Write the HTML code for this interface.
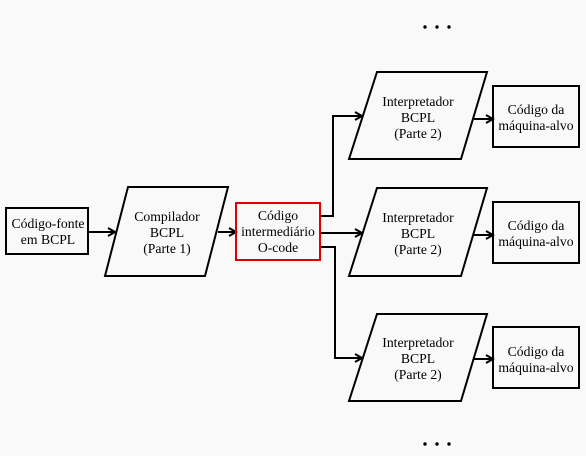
<!DOCTYPE html>
<html><head><meta charset="utf-8"><style>
html,body{margin:0;padding:0;background:#f9f9f9;}
svg{display:block;}
text{font-family:"Liberation Serif",serif;font-size:13.7px;fill:#000;text-anchor:middle;}
</style></head><body>
<svg width="586" height="456" viewBox="0 0 586 456" xmlns="http://www.w3.org/2000/svg">
<defs><marker id="a" markerWidth="10" markerHeight="10" refX="8" refY="5" orient="auto" markerUnits="userSpaceOnUse"><path d="M1,1 L8,5 L1,9" fill="none" stroke="#000" stroke-width="2"/></marker></defs>
<rect x="0" y="0" width="586" height="456" fill="#f9f9f9"/>
<g fill="none" stroke="#000" stroke-width="2">
<rect x="6" y="208" width="82" height="46"/>
<polygon points="128,187 228,187 205,276 105,276"/>
<polygon points="377,72 487,72 461,159 349,159"/>
<polygon points="377,188 487,188 461,276 349,276"/>
<polygon points="377,314 487,314 461,401 349,401"/>
<rect x="493" y="86" width="86" height="61"/>
<rect x="493" y="202" width="86" height="61"/>
<rect x="493" y="327" width="86" height="61"/>
<path d="M88,232 L115,232" marker-end="url(#a)"/>
<path d="M218,232 L236,232" marker-end="url(#a)"/>
<path d="M320,216 L333,216 L333,116 L362,116" marker-end="url(#a)"/>
<path d="M320,233 L362,233" marker-end="url(#a)"/>
<path d="M320,247 L335,247 L335,358 L362,358" marker-end="url(#a)"/>
<path d="M474,119 L493,119" marker-end="url(#a)"/>
<path d="M474,235 L493,235" marker-end="url(#a)"/>
<path d="M474,359 L493,359" marker-end="url(#a)"/>
</g>
<rect x="236" y="203" width="84" height="57" fill="none" stroke="#e00000" stroke-width="2"/>
<g fill="#000"><circle cx="425" cy="27" r="1.7"/><circle cx="437" cy="27" r="1.7"/><circle cx="449" cy="27" r="1.7"/>
<circle cx="425" cy="444" r="1.7"/><circle cx="437" cy="444" r="1.7"/><circle cx="449" cy="444" r="1.7"/></g>
<text x="48" y="228">Código-fonte</text><text x="48" y="244">em BCPL</text>
<text x="167" y="221">Compilador</text><text x="167" y="237">BCPL</text><text x="167" y="253">(Parte 1)</text>
<text x="278" y="220">Código</text><text x="278" y="236">intermediário</text><text x="278" y="252">O-code</text>
<text x="418" y="106">Interpretador</text><text x="418" y="122">BCPL</text><text x="418" y="138">(Parte 2)</text>
<text x="418" y="222">Interpretador</text><text x="418" y="238">BCPL</text><text x="418" y="254">(Parte 2)</text>
<text x="418" y="347">Interpretador</text><text x="418" y="363">BCPL</text><text x="418" y="379">(Parte 2)</text>
<text x="536" y="114">Código da</text><text x="536" y="130">máquina-alvo</text>
<text x="536" y="230">Código da</text><text x="536" y="246">máquina-alvo</text>
<text x="536" y="356">Código da</text><text x="536" y="372">máquina-alvo</text>
</svg>
</body></html>
